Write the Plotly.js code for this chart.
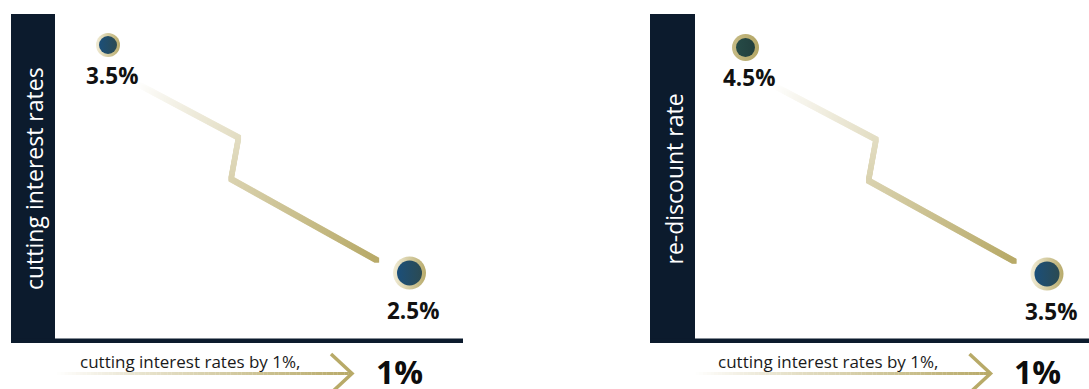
<!DOCTYPE html>
<html><head><meta charset="utf-8">
<script src="https://cdn.plot.ly/plotly-3.0.1.min.js"></script>
<style>html,body{margin:0;padding:0;background:#fff;}#chart{width:1089px;height:389px;}</style>
</head><body><div id="chart"></div>
<script>
// ---- data ----
const stages = ["before", "after"];
const panelTitles = ["cutting interest rates", "re-discount rate"];
const interestRates = [3.5, 2.5];
const rediscountRates = [4.5, 3.5];
const footerText = "cutting interest rates by 1%,";
const cutLabel = "1%";

// ---- helpers ----
const W = 1089, H = 389;
const px = x => x / W, py = y => 1 - y / H;
const FONT = '"Open Sans", "Noto Sans", sans-serif';
const GOLD = [184, 170, 104];
function blend(a) {
  const c = GOLD.map(g => Math.round(255 + (g - 255) * a));
  return 'rgb(' + c.join(',') + ')';
}
const xs = stages.map((_, i) => i);
const fmt = v => v.toFixed(1) + '%';

// zigzag path as fractions of the way from first to second point
const WP = [[0.097, 0.17], [0.433, 0.406], [0.408, 0.588], [0.893, 0.945]];
function pathTrace(vals, xa, ya, sx, sy) {
  const pts = WP.map(([fx, fy]) => [xs[0] + fx * (xs[1] - xs[0]), vals[0] + fy * (vals[1] - vals[0])]);
  const segs = [];
  let total = 0;
  for (let i = 0; i < pts.length - 1; i++) {
    const dx = (pts[i + 1][0] - pts[i][0]) * sx, dy = (pts[i + 1][1] - pts[i][1]) * sy;
    const L = Math.hypot(dx, dy);
    segs.push(L); total += L;
  }
  const X = [], Y = [], C = [];
  let acc = 0;
  for (let i = 0; i < segs.length; i++) {
    const n = Math.ceil(segs[i] / 0.7);
    for (let k = 0; k < n; k++) {
      const f = k / n;
      X.push(pts[i][0] + f * (pts[i + 1][0] - pts[i][0]));
      Y.push(pts[i][1] + f * (pts[i + 1][1] - pts[i][1]));
      const t = (acc + f * segs[i]) / total;
      C.push(blend(Math.pow(t, 0.9)));
    }
    acc += segs[i];
  }
  return {x: X, y: Y, xaxis: xa, yaxis: ya, mode: 'markers', type: 'scatter', hoverinfo: 'skip',
    marker: {size: 5, color: C, opacity: 1, symbol: 'square', line: {width: 0}}};
}

const traces = [
  pathTrace(interestRates, 'x', 'y', 301.5, 228),
  pathTrace(rediscountRates, 'x2', 'y2', 301.5, 226.5),
  // rings
  {x: xs, y: interestRates, xaxis: 'x', yaxis: 'y', mode: 'markers', type: 'scatter', hoverinfo: 'skip',
   marker: {size: [24, 33], opacity: 1, color: '#f1ecd6', line: {width: 0}, gradient: {type: 'horizontal', color: '#b8ab6c'}}},
  {x: xs, y: interestRates, xaxis: 'x', yaxis: 'y', mode: 'markers', type: 'scatter', hoverinfo: 'skip',
   marker: {size: [18, 25], opacity: 1, color: '#1b4f7a', line: {width: 0}, gradient: {type: 'horizontal', color: '#2b4a52'}}},
  {x: xs, y: rediscountRates, xaxis: 'x2', yaxis: 'y2', mode: 'markers', type: 'scatter', hoverinfo: 'skip',
   marker: {size: [27, 33], opacity: 1, color: ['#c6bb86', '#f1ecd6'], line: {width: 0}, gradient: {type: 'horizontal', color: ['#b3a665', '#b8ab6c']}}},
  {x: xs, y: rediscountRates, xaxis: 'x2', yaxis: 'y2', mode: 'markers', type: 'scatter', hoverinfo: 'skip',
   marker: {size: [19, 25], opacity: 1, color: ['#264b47', '#1b4f7a'], line: {width: 0}, gradient: {type: 'horizontal', color: ['#223f3d', '#2b4a52']}}}
];

const shapes = [];
const annotations = [];
const NAVY = '#0c1b2d';
function panel(off, barL, barR, lineR, title, vals, xa, ya) {
  shapes.push({type: 'rect', xref: 'paper', yref: 'paper', x0: px(barL), x1: px(barR), y0: py(343), y1: py(14), fillcolor: NAVY, line: {width: 0}, layer: 'below'});
  shapes.push({type: 'rect', xref: 'paper', yref: 'paper', x0: px(barL), x1: px(lineR), y0: py(343), y1: py(338.5), fillcolor: NAVY, line: {width: 0}, layer: 'below'});
  annotations.push({xref: 'paper', yref: 'paper', x: px((barL + barR) / 2 + 1), y: py(179), text: title, textangle: -90, showarrow: false,
    font: {family: FONT, size: 23, color: '#ffffff'}, xanchor: 'center', yanchor: 'middle'});
  // data labels
  const shifts = [-30, -37];
  vals.forEach((v, i) => annotations.push({xref: xa, yref: ya, x: xs[i], y: v, text: '<b>' + fmt(v) + '</b>', showarrow: false,
    xshift: 3.5, yshift: shifts[i], xanchor: 'center', yanchor: 'middle', font: {family: FONT, size: 22.5, color: '#111111'}}));
  // footer arrow gradient
  const x0 = 57 + off, x1 = 352 + off, N = 80;
  for (let k = 0; k < N; k++) {
    const a = x0 + (x1 - x0) * k / N, b = x0 + (x1 - x0) * (k + 1.05) / N;
    shapes.push({type: 'line', xref: 'paper', yref: 'paper', x0: px(a), x1: px(b), y0: py(373.5), y1: py(373.5),
      line: {color: blend(Math.pow((k + 0.5) / N, 0.9)), width: 3}});
  }
  shapes.push({type: 'path', xref: 'paper', yref: 'paper',
    path: `M ${px(331 + off)} ${py(354)} L ${px(352 + off)} ${py(373.5)} L ${px(331 + off)} ${py(393)}`,
    line: {color: '#b8aa68', width: 3.5}});
  annotations.push({xref: 'paper', yref: 'paper', x: px(189.5 + off), y: py(361), text: footerText, showarrow: false,
    xanchor: 'center', yanchor: 'middle', font: {family: FONT, size: 17, color: '#1a1a1a'}});
  annotations.push({xref: 'paper', yref: 'paper', x: px(399 + off), y: py(371), text: '<b>' + cutLabel + '</b>', showarrow: false,
    xanchor: 'center', yanchor: 'middle', font: {family: FONT, size: 32, color: '#0d0d0d'}});
}
panel(0, 11, 55, 463, panelTitles[0], interestRates, 'x', 'y');
panel(638.5, 650, 695, 1089, panelTitles[1], rediscountRates, 'x2', 'y2');

const hid = {visible: false, fixedrange: true, showgrid: false, zeroline: false};
const layout = {
  width: W, height: H, margin: {l: 0, r: 0, t: 0, b: 0}, paper_bgcolor: '#ffffff', plot_bgcolor: 'rgba(0,0,0,0)', showlegend: false,
  xaxis: Object.assign({domain: [px(55), px(463)], range: [-0.1758, 1.1774], anchor: 'y'}, hid),
  yaxis: Object.assign({domain: [py(341), py(14)], range: [2.2018, 3.636], anchor: 'x'}, hid),
  xaxis2: Object.assign({domain: [px(695), 1], range: [-0.1675, 1.1393], anchor: 'y2'}, hid),
  yaxis2: Object.assign({domain: [py(341), py(14)], range: [3.2042, 4.648], anchor: 'x2'}, hid),
  shapes: shapes, annotations: annotations
};
Plotly.newPlot('chart', traces, layout, {displayModeBar: false, staticPlot: true});
</script>
</body></html>
